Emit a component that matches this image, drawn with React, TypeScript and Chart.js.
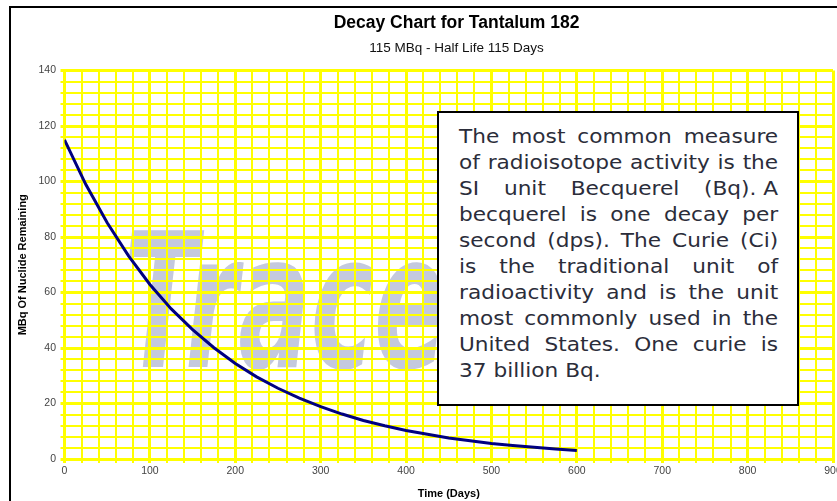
import React, { useEffect, useRef } from 'react';
import { Chart, registerables } from 'chart.js';

Chart.register(...registerables);

// ---- data ----
const days = [0, 25, 50, 75, 100, 125, 150, 175, 200, 225, 250, 275, 300, 325, 350, 375, 400, 425, 450, 475, 500, 525, 550, 575, 600];
const remaining = [115, 98.9, 85.1, 73.2, 62.9, 54.1, 46.6, 40.1, 34.4, 29.6, 25.5, 21.9, 18.9, 16.2, 13.9, 12.0, 10.3, 8.9, 7.6, 6.6, 5.6, 4.9, 4.2, 3.6, 3.1];
const xMin = 0;
const xMax = 900;
const xMinorStep = 20;
const xMajorStep = 100;
const yMin = 0;
const yMax = 140;
const yMinorStep = 4;
const yMajorStep = 20;

const titleText = 'Decay Chart for Tantalum 182';
const subtitleText = '115 MBq - Half Life 115 Days';
const xTitle = 'Time (Days)';
const yTitle = 'MBq Of Nuclide Remaining';
const watermarkText = 'Tracer';
const noteLines = [
  'The most common measure',
  'of radioisotope activity is the',
  'SI unit Becquerel (Bq).\u00a0A',
  'becquerel is one decay per',
  'second (dps). The Curie (Ci)',
  'is the traditional unit of',
  'radioactivity and is the unit',
  'most commonly used in the',
  'United States. One curie is',
  '37 billion Bq.',
];

const ARIAL = '"Liberation Sans", Arial, Helvetica, sans-serif';
const CANVAS_W = 905;
const CANVAS_H = 512;
const PLOT_LEFT = 64.5;
const PLOT_RIGHT = 833;
const PLOT_BOTTOM = 459;

export default function App() {
  const canvasRef = useRef<HTMLCanvasElement | null>(null);

  useEffect(() => {
    const canvas = canvasRef.current;
    if (!canvas) return;
    const isMult = (v: number, m: number) => Math.abs(Math.round(v / m) * m - v) < 1e-6;
    const chart = new Chart(canvas, {
      type: 'line',
      data: {
        datasets: [
          {
            data: days.map((d, i) => ({ x: d, y: remaining[i] })),
            borderColor: '#000080',
            borderWidth: 3,
            pointRadius: 0,
            tension: 0,
            fill: false,
          },
        ],
      },
      options: {
        responsive: false,
        animation: false,
        devicePixelRatio: 1,
        layout: { padding: { left: 8, top: 12.5, right: 0, bottom: 0 } },
        plugins: {
          legend: { display: false },
          tooltip: { enabled: false },
          title: {
            display: true,
            text: titleText,
            color: '#000',
            font: { family: ARIAL, size: 17.5, weight: 'bold', lineHeight: 1.2 },
            padding: { top: 0, bottom: 0 },
          },
          subtitle: {
            display: true,
            text: subtitleText,
            color: '#111',
            font: { family: ARIAL, size: 13.5, weight: 'normal', lineHeight: 1.2 },
            padding: { top: 6.4, bottom: 14.4 },
          },
        },
        scales: {
          x: {
            type: 'linear',
            min: xMin,
            max: xMax,
            afterFit: (s: any) => {
              s.height = CANVAS_H - PLOT_BOTTOM;
            },
            ticks: {
              stepSize: xMinorStep,
              autoSkip: false,
              maxRotation: 0,
              padding: 2,
              color: '#444',
              font: { family: ARIAL, size: 10.5 },
              callback: (v: any) => (isMult(Number(v), xMajorStep) ? String(v) : ''),
            },
            grid: {
              color: '#ffff00',
              tickLength: 4,
              lineWidth: (ctx: any) => (ctx.tick && isMult(ctx.tick.value, xMajorStep) ? 3 : 2),
            },
            border: { color: '#ffff00', width: 3 },
            title: {
              display: true,
              text: xTitle,
              color: '#000',
              font: { family: ARIAL, size: 11, weight: 'bold', lineHeight: 1.2 },
              padding: { top: 0, bottom: 11.4 },
            },
          },
          y: {
            type: 'linear',
            min: yMin,
            max: yMax,
            afterFit: (s: any) => {
              s.width = PLOT_LEFT - 8;
            },
            ticks: {
              stepSize: yMinorStep,
              autoSkip: false,
              padding: 4.5,
              color: '#444',
              font: { family: ARIAL, size: 10.5 },
              callback: (v: any) => (isMult(Number(v), yMajorStep) ? String(v) : ''),
            },
            grid: {
              color: '#ffff00',
              tickLength: 4,
              lineWidth: (ctx: any) => (ctx.tick && isMult(ctx.tick.value, yMajorStep) ? 3 : 2),
            },
            border: { color: '#ffff00', width: 3 },
            title: {
              display: true,
              text: yTitle,
              color: '#000',
              font: { family: ARIAL, size: 11, weight: 'bold', lineHeight: 1.2 },
              padding: { top: 7.9, bottom: 0 },
            },
          },
          yRight: {
            type: 'linear',
            position: 'right',
            display: true,
            afterFit: (s: any) => {
              s.width = CANVAS_W - PLOT_RIGHT;
            },
            ticks: { display: false },
            grid: { display: false, drawOnChartArea: false },
            border: { display: false },
          },
        },
      } as any,
    });
    return () => chart.destroy();
  }, []);

  return (
    <div
      style={{
        position: 'fixed',
        left: 0,
        top: 0,
        width: 837,
        height: 501,
        overflow: 'hidden',
        background: '#fff',
      }}
    >
      <div
        style={{
          position: 'absolute',
          left: 9,
          top: 6,
          width: 896,
          height: 510,
          border: '2px solid #000',
          boxSizing: 'border-box',
        }}
      />
      <div
        style={{
          position: 'absolute',
          left: 124,
          top: 208,
          fontFamily: '"DejaVu Sans", Verdana, sans-serif',
          fontWeight: 'bold',
          fontStyle: 'italic',
          fontSize: 188,
          lineHeight: '188px',
          color: '#c4c9de',
          whiteSpace: 'nowrap',
          transform: 'scaleX(0.57)',
          transformOrigin: '0 0',
        }}
      >
        {watermarkText}
      </div>
      <canvas
        ref={canvasRef}
        width={CANVAS_W}
        height={CANVAS_H}
        style={{ position: 'absolute', left: 0, top: 0, width: CANVAS_W, height: CANVAS_H }}
      />
      <div
        style={{
          position: 'absolute',
          left: 437,
          top: 111,
          width: 362,
          height: 295,
          border: '2px solid #000',
          boxSizing: 'border-box',
          background: '#fff',
        }}
      />
      <div
        style={{
          position: 'absolute',
          left: 459,
          top: 123.4,
          width: 280,
          transform: 'scaleX(1.14)',
          transformOrigin: '0 0',
          fontFamily: '"DejaVu Sans", Verdana, sans-serif',
          fontSize: 19,
          lineHeight: '26px',
          color: '#2b2d3a',
        }}
      >
        {noteLines.map((line, i) => {
          const last = i === noteLines.length - 1;
          if (last) {
            return (
              <div key={i} style={{ whiteSpace: 'nowrap' }}>
                {line}
              </div>
            );
          }
          return (
            <div key={i} style={{ display: 'flex', justifyContent: 'space-between', whiteSpace: 'nowrap' }}>
              {line.split(' ').map((w, j) => (
                <span key={j}>{w}</span>
              ))}
            </div>
          );
        })}
      </div>
    </div>
  );
}
